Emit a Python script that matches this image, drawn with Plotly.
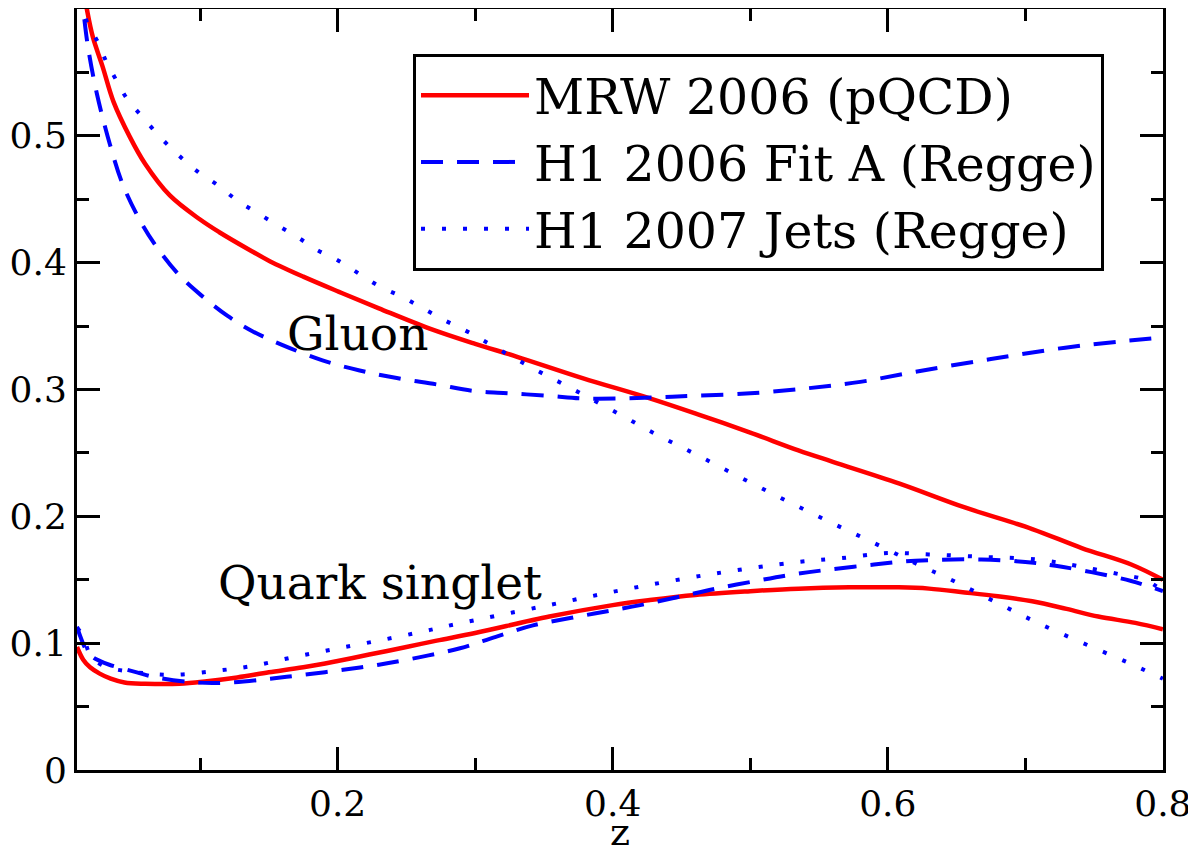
import plotly.graph_objects as go

# ---------------- data ----------------
z_mrw_g = [0.014, 0.018, 0.022, 0.029, 0.037, 0.049, 0.06, 0.078, 0.1, 0.114, 0.136, 0.151,
           0.175, 0.201, 0.23, 0.267, 0.3, 0.33, 0.378, 0.427, 0.463, 0.5, 0.535, 0.56,
           0.608, 0.656, 0.705, 0.741, 0.777, 0.8]
v_mrw_g = [0.625, 0.598, 0.578, 0.555, 0.527, 0.499, 0.478, 0.453, 0.434, 0.424, 0.410, 0.401,
           0.389, 0.377, 0.364, 0.348, 0.336, 0.326, 0.309, 0.293, 0.280, 0.266, 0.252, 0.243,
           0.226, 0.207, 0.190, 0.175, 0.162, 0.150]

z_fitA_g = [0.013, 0.015, 0.0185, 0.025, 0.0345, 0.044, 0.058, 0.07, 0.085, 0.1, 0.12, 0.138,
            0.16, 0.189, 0.216, 0.243, 0.272, 0.298, 0.325, 0.354, 0.378, 0.407, 0.434, 0.458,
            0.5, 0.542, 0.58, 0.62, 0.675, 0.729, 0.77, 0.8]
v_fitA_g = [0.62, 0.600, 0.570, 0.533, 0.493, 0.461, 0.430, 0.410, 0.390, 0.375, 0.358, 0.346,
            0.335, 0.323, 0.315, 0.309, 0.304, 0.299, 0.297, 0.295, 0.293, 0.293, 0.294, 0.295,
            0.297, 0.301, 0.306, 0.314, 0.324, 0.333, 0.338, 0.341]

z_jets_g = [0.012, 0.0163, 0.0265, 0.032, 0.039, 0.047, 0.058, 0.071, 0.084, 0.098, 0.113, 0.127,
            0.142, 0.157, 0.171, 0.185, 0.2, 0.216, 0.231, 0.247, 0.262, 0.277, 0.292, 0.307,
            0.338, 0.368, 0.399, 0.431, 0.462, 0.494, 0.525, 0.557, 0.588, 0.62, 0.648, 0.681,
            0.711, 0.742, 0.774, 0.8]
v_jets_g = [0.625, 0.594, 0.572, 0.558, 0.544, 0.529, 0.515, 0.499, 0.485, 0.472, 0.461, 0.449,
            0.439, 0.429, 0.420, 0.410, 0.402, 0.391, 0.381, 0.373, 0.364, 0.355, 0.347, 0.338,
            0.319, 0.302, 0.284, 0.265, 0.248, 0.230, 0.213, 0.196, 0.180, 0.163, 0.149, 0.131,
            0.115, 0.100, 0.085, 0.072]

z_mrw_q = [0.0105, 0.015, 0.02, 0.027, 0.035, 0.045, 0.06, 0.085, 0.105, 0.127, 0.15, 0.175,
           0.2, 0.223, 0.25, 0.272, 0.3, 0.354, 0.4, 0.427, 0.46, 0.5, 0.535, 0.572, 0.608,
           0.63, 0.656, 0.68, 0.705, 0.73, 0.753, 0.78, 0.8]
v_mrw_q = [0.097, 0.087, 0.081, 0.076, 0.072, 0.069, 0.068, 0.068, 0.070, 0.073, 0.077, 0.081,
           0.086, 0.091, 0.097, 0.102, 0.108, 0.121, 0.130, 0.134, 0.138, 0.141, 0.143, 0.144,
           0.144, 0.143, 0.140, 0.137, 0.133, 0.127, 0.121, 0.116, 0.111]

z_fitA_q = [0.0105, 0.013, 0.017, 0.022, 0.027, 0.034, 0.054, 0.068, 0.097, 0.122, 0.151, 0.175,
            0.204, 0.23, 0.26, 0.289, 0.315, 0.342, 0.37, 0.395, 0.42, 0.45, 0.475, 0.504,
            0.53, 0.557, 0.59, 0.62, 0.668, 0.7, 0.722, 0.748, 0.777, 0.8]
v_fitA_q = [0.113, 0.105, 0.095, 0.089, 0.086, 0.083, 0.077, 0.073, 0.069, 0.069, 0.072, 0.075,
            0.079, 0.083, 0.089, 0.096, 0.105, 0.114, 0.120, 0.125, 0.130, 0.137, 0.143, 0.149,
            0.154, 0.158, 0.162, 0.165, 0.166, 0.164, 0.161, 0.156, 0.149, 0.141]

z_jets_q = [0.0105, 0.015, 0.02, 0.03, 0.054, 0.08, 0.11, 0.138, 0.168, 0.196, 0.225, 0.257,
            0.286, 0.349, 0.412, 0.475, 0.535, 0.566, 0.6, 0.63, 0.67, 0.708, 0.737, 0.77,
            0.787, 0.8]
v_jets_q = [0.112, 0.106, 0.091, 0.082, 0.077, 0.075, 0.078, 0.082, 0.089, 0.095, 0.101, 0.108,
            0.115, 0.129, 0.143, 0.155, 0.164, 0.167, 0.171, 0.170, 0.168, 0.166, 0.161, 0.154,
            0.150, 0.141]

x_tickvals = [0.2, 0.4, 0.6, 0.8]
x_ticktext = ["0.2", "0.4", "0.6", "0.8"]
y_tickvals = [0, 0.1, 0.2, 0.3, 0.4, 0.5]
y_ticktext = ["0", "0.1", "0.2", "0.3", "0.4", "0.5"]

series_names = ["MRW 2006 (pQCD)", "H1 2006 Fit A (Regge)", "H1 2007 Jets (Regge)"]
label_gluon = "Gluon"
label_quark = "Quark singlet"
x_title = "z"

# ---------------- styling ----------------
RED = "#ff0000"
BLUE = "#0000ff"
FONT = "DejaVu Serif, Liberation Serif, serif"

styles = [
    dict(color=RED, width=4.5, dash="solid"),
    dict(color=BLUE, width=4, dash="22px,14px"),
    dict(color=BLUE, width=4, dash="4px,17px"),
]

fig = go.Figure()

gluon = [(z_mrw_g, v_mrw_g), (z_fitA_g, v_fitA_g), (z_jets_g, v_jets_g)]
quark = [(z_mrw_q, v_mrw_q), (z_fitA_q, v_fitA_q), (z_jets_q, v_jets_q)]

for i, (name, st) in enumerate(zip(series_names, styles)):
    zg, vg = gluon[i]
    zq, vq = quark[i]
    fig.add_trace(go.Scatter(x=zg, y=vg, mode="lines", name=name, line=st,
                             legendgroup=name, showlegend=True, line_shape="spline"))
    fig.add_trace(go.Scatter(x=zq, y=vq, mode="lines", name=name, line=st,
                             legendgroup=name, showlegend=False, line_shape="spline"))

fig.add_annotation(x=0.2145, y=0.344, text=label_gluon, showarrow=False,
                   font=dict(family=FONT, size=47, color="black"))
fig.add_annotation(x=0.2305, y=0.148, text=label_quark, showarrow=False,
                   font=dict(family=FONT, size=47, color="black"))

axis_common = dict(
    showline=True, linecolor="black", linewidth=3, mirror="allticks",
    ticks="inside", ticklen=23, tickwidth=3, tickcolor="black",
    showgrid=False, zeroline=False,
    tickfont=dict(family=FONT, size=36, color="black"),
)

fig.update_xaxes(
    range=[0.0105, 0.8001], tickmode="array", tickvals=x_tickvals, ticktext=x_ticktext,
    minor=dict(ticks="inside", ticklen=12, tickwidth=3, tickcolor="black",
               tickmode="linear", tick0=0, dtick=0.1, showgrid=False),
    title=dict(text=x_title, font=dict(family=FONT, size=38, color="black"), standoff=14),
    **axis_common,
)
fig.update_yaxes(
    range=[0, 0.6], tickmode="array", tickvals=y_tickvals, ticktext=y_ticktext,
    minor=dict(ticks="inside", ticklen=12, tickwidth=3, tickcolor="black",
               tickmode="linear", tick0=0, dtick=0.05, showgrid=False),
    **axis_common,
)

# The page body adds an 8px offset, so the figure is 8px smaller in each direction
fig.update_layout(
    width=1188, height=846,
    margin=dict(l=69, r=33, t=1, b=84, autoexpand=False),
    paper_bgcolor="white", plot_bgcolor="white",
    font=dict(family=FONT, color="black"),
    legend=dict(
        x=0.3094, y=0.941, xanchor="left", yanchor="top",
        bgcolor="white", bordercolor="black", borderwidth=3,
        font=dict(family=FONT, size=49, color="black"),
        itemwidth=108, tracegroupgap=0,
    ),
    showlegend=True,
)

fig.write_html("out.html")
